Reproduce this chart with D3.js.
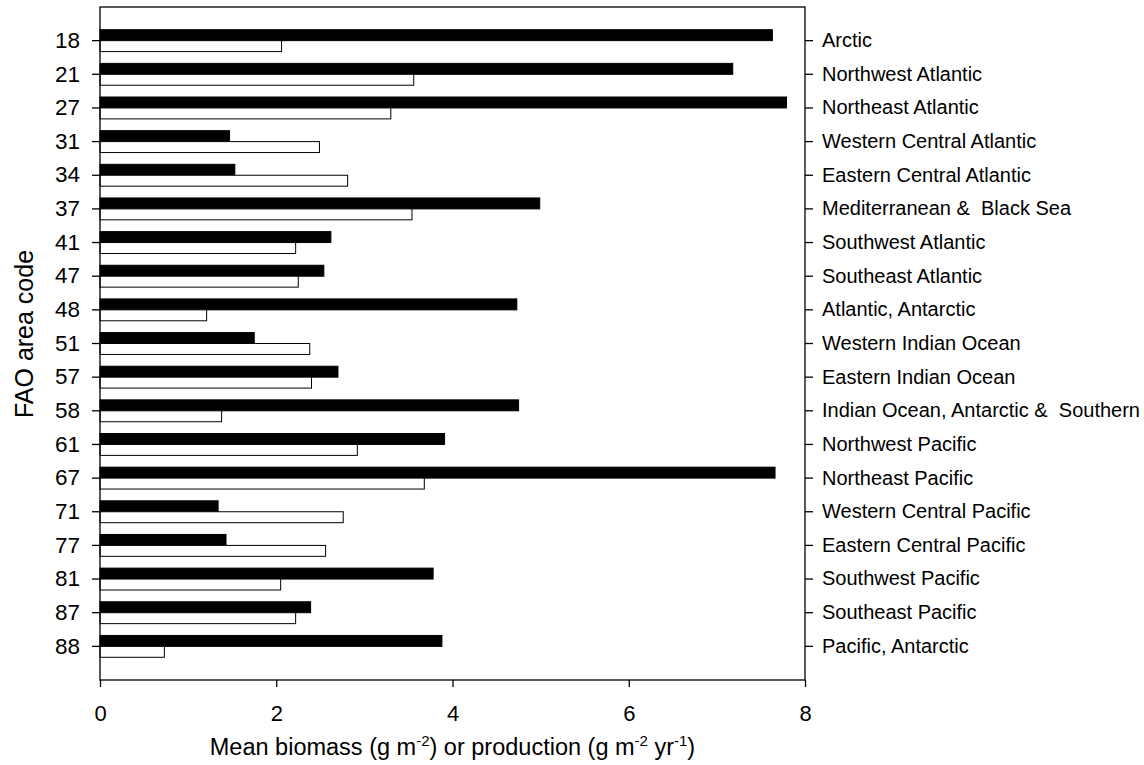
<!DOCTYPE html>
<html>
<head>
<meta charset="utf-8">
<script src="https://cdn.jsdelivr.net/npm/d3@7"></script>
<style>
body { margin: 0; background: #fff; }
svg { display: block; font-family: "Liberation Sans", Arial, Helvetica, sans-serif; }
text { white-space: pre; }
</style>
</head>
<body>
<script>
// FAO areas, top to bottom
const codes = ["18", "21", "27", "31", "34", "37", "41", "47", "48", "51",
    "57", "58", "61", "67", "71", "77", "81", "87", "88"]
const regions = ["Arctic", "Northwest Atlantic", "Northeast Atlantic",
    "Western Central Atlantic", "Eastern Central Atlantic", "Mediterranean &  Black Sea",
    "Southwest Atlantic", "Southeast Atlantic", "Atlantic, Antarctic",
    "Western Indian Ocean", "Eastern Indian Ocean", "Indian Ocean, Antarctic &  Southern",
    "Northwest Pacific", "Northeast Pacific", "Western Central Pacific",
    "Eastern Central Pacific", "Southwest Pacific", "Southeast Pacific", "Pacific, Antarctic"]
// black bars
const biomass = [7.63, 7.18, 7.79, 1.47, 1.53, 4.99, 2.62, 2.54, 4.73, 1.75,
    2.70, 4.75, 3.91, 7.66, 1.34, 1.43, 3.78, 2.39, 3.88]
// white bars
const production = [2.06, 3.56, 3.30, 2.49, 2.81, 3.54, 2.22, 2.25, 1.21, 2.38,
    2.40, 1.38, 2.92, 3.68, 2.76, 2.56, 2.05, 2.22, 0.73]
const series = ["biomass", "production"]
const xTicks = [0, 2, 4, 6, 8]

function setattrs(shape, dict) {
    for (let [prop, val] of Object.entries(dict)) {
        shape.attr(prop, val)
    }
}

const W = 1144, H = 765
const mLeft = 100, mRight = 805, mTop = 7, mBottom = 680
const step = (mBottom - mTop) / (codes.length + 1)

const svg = d3.select("body").append("svg")
setattrs(svg, {"width": W, "height": H})

const x = d3.scaleLinear().domain([0, 8]).range([mLeft, mRight])
const y = d3.scaleBand().domain(codes)
    .range([mTop + step / 2, mBottom - step / 2])
    .paddingInner(0.35).paddingOuter(0.175)
const ys = d3.scaleBand().domain(series).range([0, y.bandwidth()])

const rows = codes.map((c, i) => ({code: c, biomass: biomass[i], production: production[i]}))

const g = svg.append("g")
g.selectAll("g.row").data(rows).join("g")
    .attr("class", "row")
    .attr("transform", d => `translate(0,${y(d.code)})`)
    .selectAll("rect")
    .data(d => series.map(s => ({s: s, v: d[s]})))
    .join("rect")
    .attr("x", x(0))
    .attr("y", d => ys(d.s))
    .attr("width", d => x(d.v) - x(0))
    .attr("height", ys.bandwidth())
    .attr("fill", d => d.s === "biomass" ? "#000" : "#fff")
    .attr("stroke", "#000")
    .attr("stroke-width", 1)

// frame
svg.append("rect")
    .attr("x", mLeft).attr("y", mTop)
    .attr("width", mRight - mLeft).attr("height", mBottom - mTop)
    .attr("fill", "none").attr("stroke", "#000").attr("stroke-width", 1.3)

const axL = svg.append("g")
    .attr("transform", `translate(${mLeft},0)`)
    .call(d3.axisLeft(y).tickSize(8).tickPadding(12))
const axR = svg.append("g")
    .attr("transform", `translate(${mRight},0)`)
    .call(d3.axisRight(y).tickSize(8).tickPadding(9)
        .tickFormat((d, i) => regions[i]))
const axB = svg.append("g")
    .attr("transform", `translate(0,${mBottom})`)
    .call(d3.axisBottom(x).tickValues(xTicks).tickSize(7).tickPadding(18))

for (let ax of [axL, axR, axB]) {
    ax.select(".domain").remove()
    ax.selectAll(".tick line").attr("stroke", "#000").attr("stroke-width", 1.3)
    ax.selectAll("text").attr("fill", "#000").attr("font-family", null)
}
axL.selectAll("text").attr("font-size", 22.5)
axB.selectAll("text").attr("font-size", 22)
axR.selectAll("text").attr("font-size", 20)

// axis titles
const xt = svg.append("text")
setattrs(xt, {"x": (mLeft + mRight) / 2, "y": 755, "text-anchor": "middle", "font-size": 23.5})
xt.append("tspan").text("Mean biomass (g m")
xt.append("tspan").text("-2").attr("font-size", 15).attr("dy", -9)
xt.append("tspan").text(") or production (g m").attr("dy", 9)
xt.append("tspan").text("-2").attr("font-size", 15).attr("dy", -9)
xt.append("tspan").text(" yr").attr("dy", 9)
xt.append("tspan").text("-1").attr("font-size", 15).attr("dy", -9)
xt.append("tspan").text(")").attr("dy", 9)

svg.append("text")
    .attr("transform", "translate(33,334) rotate(-90)")
    .attr("text-anchor", "middle")
    .attr("font-size", 25)
    .text("FAO area code")
</script>
</body>
</html>
